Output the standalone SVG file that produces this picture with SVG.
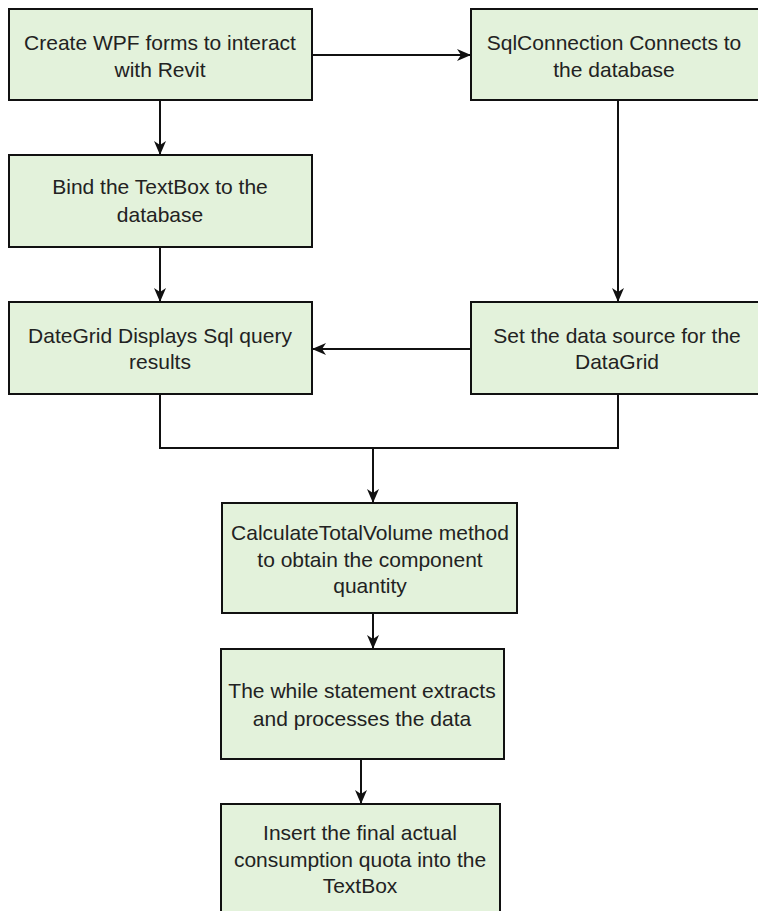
<svg xmlns="http://www.w3.org/2000/svg" width="758" height="911" viewBox="0 0 758 911">
<style>
.box{fill:#e3f2db;stroke:#111;stroke-width:2}
.t{font-family:"Liberation Sans",Arial,sans-serif;font-size:21px;fill:#222;text-anchor:middle}
.c{fill:none;stroke:#111;stroke-width:2}
</style>
<defs>
<marker id="ah" viewBox="0 0 14 14" refX="13" refY="7" markerWidth="14" markerHeight="14" markerUnits="userSpaceOnUse" orient="auto">
<path d="M0,1 L14,7 L0,13 L4,7 Z" fill="#111"/>
</marker>
</defs>
<rect width="758" height="911" fill="#fff"/>
<g id="connectors">
<path class="c" d="M312,55 H470" marker-end="url(#ah)"/>
<path class="c" d="M160,100 V154" marker-end="url(#ah)"/>
<path class="c" d="M160,247 V301" marker-end="url(#ah)"/>
<path class="c" d="M618,100 V301" marker-end="url(#ah)"/>
<path class="c" d="M471,349 H313" marker-end="url(#ah)"/>
<path class="c" d="M160,394 V448 H373 V502" marker-end="url(#ah)"/>
<path class="c" d="M618,394 V448 H373"/>
<path class="c" d="M373,613 V648" marker-end="url(#ah)"/>
<path class="c" d="M361,759 V803" marker-end="url(#ah)"/>
</g>
<g id="n1"><rect class="box" x="9" y="9" width="303" height="91"/>
<text class="t" x="160" y="50">Create WPF forms to interact</text>
<text class="t" x="160" y="77">with Revit</text></g>
<g id="n2"><rect class="box" x="471" y="9" width="294" height="91"/>
<text class="t" x="614" y="50">SqlConnection Connects to</text>
<text class="t" x="614" y="77">the database</text></g>
<g id="n3"><rect class="box" x="9" y="155" width="303" height="92"/>
<text class="t" x="160" y="194">Bind the TextBox to the</text>
<text class="t" x="160" y="222">database</text></g>
<g id="n4"><rect class="box" x="9" y="302" width="303" height="92"/>
<text class="t" x="160" y="343">DateGrid Displays Sql query</text>
<text class="t" x="160" y="369">results</text></g>
<g id="n5"><rect class="box" x="471" y="302" width="294" height="92"/>
<text class="t" x="617" y="343">Set the data source for the</text>
<text class="t" x="617" y="369">DataGrid</text></g>
<g id="n6"><rect class="box" x="222" y="503" width="295" height="110"/>
<text class="t" x="370" y="540">CalculateTotalVolume method</text>
<text class="t" x="370" y="567">to obtain the component</text>
<text class="t" x="370" y="593">quantity</text></g>
<g id="n7"><rect class="box" x="221" y="649" width="283" height="110"/>
<text class="t" x="362" y="698">The while statement extracts</text>
<text class="t" x="362" y="726">and processes the data</text></g>
<g id="n8"><rect class="box" x="221" y="804" width="279" height="120"/>
<text class="t" x="360" y="840">Insert the final actual</text>
<text class="t" x="360" y="867">consumption quota into the</text>
<text class="t" x="360" y="893">TextBox</text></g>
</svg>
